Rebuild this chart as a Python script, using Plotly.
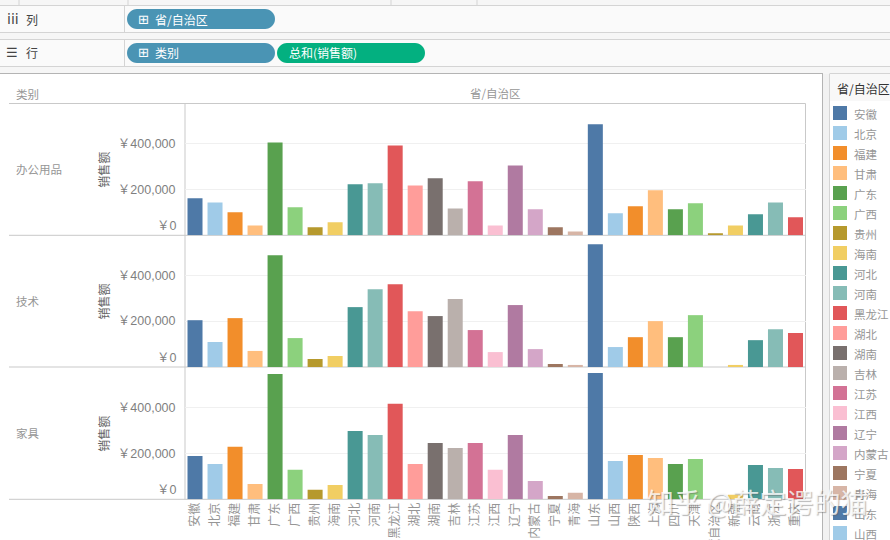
import plotly.graph_objects as go
from plotly.subplots import make_subplots

W, H = 890, 540

PROVINCES = ['安徽', '北京', '福建', '甘肃', '广东', '广西', '贵州', '海南', '河北', '河南',
             '黑龙江', '湖北', '湖南', '吉林', '江苏', '江西', '辽宁', '内蒙古', '宁夏', '青海',
             '山东', '山西', '陕西', '上海', '四川', '天津', '西藏自治区', '新疆', '云南', '浙江', '重庆']
LEGEND_ROWS = PROVINCES[:22]  # the list runs off the bottom of the window after 山西

PALETTE = ['#4e79a7', '#a0cbe8', '#f28e2b', '#ffbe7d', '#59a14f', '#8cd17d', '#b6992d', '#f1ce63',
           '#499894', '#86bcb6', '#e15759', '#ff9d9a', '#79706e', '#bab0ac', '#d37295', '#fabfd2',
           '#b07aa1', '#d4a6c8', '#9d7660', '#d7b5a6']

CATEGORIES = ['办公用品', '技术', '家具']
OFFICE = [161000, 143000, 100000, 43000, 404000, 122000, 35000, 57000, 222000, 226000,
          391000, 217000, 248000, 117000, 235000, 43000, 304000, 113000, 35000, 17000,
          483000, 96000, 126000, 196000, 113000, 139000, 9000, 43000, 91000, 143000, 78000]
TECH = [204000, 109000, 213000, 70000, 487000, 126000, 35000, 48000, 261000, 339000,
        361000, 243000, 222000, 296000, 161000, 65000, 270000, 78000, 13000, 9000,
        535000, 87000, 130000, 200000, 130000, 226000, 0, 9000, 117000, 165000, 148000]
FURNITURE = [188000, 154000, 228000, 67000, 545000, 128000, 41000, 62000, 297000, 280000,
             415000, 154000, 245000, 223000, 245000, 128000, 280000, 80000, 14000, 28000,
             549000, 167000, 193000, 180000, 154000, 175000, 0, 20000, 149000, 136000, 132000]
SERIES = [OFFICE, TECH, FURNITURE]

Y_TICKS = [200000, 400000]
Y_TICK_TEXT = ['￥200,000', '￥400,000']
Y_MAX = 571000

CJK = 'Noto Sans CJK SC, Noto Sans, sans-serif'
TICK_FONT = 'Liberation Sans, Noto Sans CJK SC, sans-serif'
GREY_TEXT = '#969696'
RULE = '#c9c9c9'

# panel edges in window pixels: top, baseline
PANELS = [(104, 235.3), (236, 367), (368, 499.3)]
PLOT_LEFT, PLOT_RIGHT = 185, 805.5


def px(x):
    return x / W


def py(y):
    return 1 - y / H


shapes = []
annotations = []


def rect(x0, y0, x1, y1, fill, layer='below'):
    shapes.append(dict(type='rect', xref='paper', yref='paper', x0=px(x0), x1=px(x1), y0=py(y0), y1=py(y1),
                       fillcolor=fill, line_width=0, layer=layer))


def rule(x0, y0, x1, y1, color=RULE, width=1):
    shapes.append(dict(type='line', xref='paper', yref='paper', x0=px(x0), x1=px(x1), y0=py(y0), y1=py(y1),
                       line=dict(color=color, width=width), layer='below'))


def label(x, y, text, size=12, color=GREY_TEXT, anchor='left', family=CJK, **kw):
    annotations.append(dict(xref='paper', yref='paper', x=px(x), y=py(y), text=text, showarrow=False,
                            xanchor=anchor, yanchor='middle', font=dict(size=size, color=color, family=family),
                            borderpad=0, **kw))


def pill(x0, y0, x1, y1, fill):
    r = (y1 - y0) / 2
    k = 0.45 * r
    pts = [(x0 + r, y0), (x1 - r, y0), (x1 - k, y0), (x1, y0 + k), (x1, y0 + r), (x1, y1 - k), (x1 - k, y1),
           (x1 - r, y1), (x0 + r, y1), (x0 + k, y1), (x0, y1 - k), (x0, y0 + r), (x0, y0 + k), (x0 + k, y0),
           (x0 + r, y0)]
    pts = [(px(a), py(b)) for a, b in pts]
    path = (f"M{pts[0][0]},{pts[0][1]} L{pts[1][0]},{pts[1][1]} "
            f"C{pts[2][0]},{pts[2][1]} {pts[3][0]},{pts[3][1]} {pts[4][0]},{pts[4][1]} "
            f"C{pts[5][0]},{pts[5][1]} {pts[6][0]},{pts[6][1]} {pts[7][0]},{pts[7][1]} "
            f"L{pts[8][0]},{pts[8][1]} "
            f"C{pts[9][0]},{pts[9][1]} {pts[10][0]},{pts[10][1]} {pts[11][0]},{pts[11][1]} "
            f"C{pts[12][0]},{pts[12][1]} {pts[13][0]},{pts[13][1]} {pts[14][0]},{pts[14][1]} Z")
    shapes.append(dict(type='path', xref='paper', yref='paper', path=path, fillcolor=fill, line_width=0))


# --- shelf strip at the top ----------------------------------------------------
rect(0, 0, W, 74, '#f6f6f6')
rect(0, 6, W, 32, '#fafafa')
rect(0, 40, W, 66, '#fafafa')
for y in (5.5, 32.5, 39.5, 66.5):
    rule(0, y, W, y, '#d4d4d4')
rule(0, 73.5, 823, 73.5, '#b4b4b4')
rule(124.5, 6, 124.5, 32, '#d4d4d4')
rule(124.5, 40, 124.5, 66, '#d4d4d4')
for x in (19, 128, 391, 477):
    rule(x, 0, x, 5, '#d4d4d4')

label(6, 19, 'iii', size=14, color='#444444', family='DejaVu Sans')
label(25, 19, '列', size=12, color='#444444')
label(5, 52, '☰', size=13, color='#444444', family='DejaVu Sans')
label(25, 53, '行', size=12, color='#444444')

BLUE_PILL, GREEN_PILL = '#4a94b4', '#03b080'
pill(127, 9, 275, 29, BLUE_PILL)
pill(127, 43, 275, 63, BLUE_PILL)
pill(277, 43, 425, 63, GREEN_PILL)
label(137, 19, '⊞', size=13, color='#ffffff', family='DejaVu Sans')
label(154, 19, '省/自治区', size=12, color='#ffffff')
label(137, 53, '⊞', size=13, color='#ffffff', family='DejaVu Sans')
label(154, 53, '类别', size=12, color='#ffffff')
label(288, 53, '总和(销售额)', size=12, color='#ffffff')

# --- legend card ---------------------------------------------------------------
rect(823, 74, 830, H, '#f2f2f2')
rule(822.5, 74, 822.5, H, '#b4b4b4')
rule(829.5, 74, 829.5, H, '#d4d4d4')
rule(829.5, 73.5, W, 73.5, '#d4d4d4')
rect(830, 74, W, 101, '#f8f8f8')
label(836, 88, '省/自治区', size=12, color='#333333')
for i, name in enumerate(LEGEND_ROWS):
    top = 106 + 20 * i
    rect(833, top, 847, top + 14, PALETTE[i % len(PALETTE)])
    label(852.5, top + 8, name, size=11.5)

# --- table frame and headers ----------------------------------------------------
label(15, 94, '类别', size=11.5)
label(496, 93, '省/自治区', size=11.5, anchor='center')
rule(9, 103.5, PLOT_RIGHT, 103.5)
for _, base in PANELS:
    rule(9, base, PLOT_RIGHT, base)
rule(PLOT_LEFT, 103.5, PLOT_LEFT, PANELS[-1][1])
rule(PLOT_RIGHT, 103.5, PLOT_RIGHT, PANELS[-1][1])

fig = make_subplots(rows=3, cols=1, shared_xaxes=True, vertical_spacing=0.002)
bar_colors = [PALETTE[i % len(PALETTE)] for i in range(len(PROVINCES))]
for row, (cat, vals, (top, base)) in enumerate(zip(CATEGORIES, SERIES, PANELS), start=1):
    fig.add_trace(go.Bar(x=PROVINCES, y=vals, name=cat, marker=dict(color=bar_colors, line_width=0)),
                  row=row, col=1)
    fig.update_yaxes(
        domain=[py(base), py(top)], range=[0, Y_MAX], tickvals=Y_TICKS, ticktext=Y_TICK_TEXT,
        tickfont=dict(size=12.5, color='#7f7f7f', family=TICK_FONT), ticks='outside', ticklen=6,
        tickcolor='rgba(0,0,0,0)', showline=False, zeroline=False,
        showgrid=True, gridcolor='#f0f0f0', gridwidth=1,
        title=dict(text='销售额', font=dict(size=12, color='#666666', family=CJK), standoff=5),
        row=row, col=1)
    label(15, (top + base) / 2 - 0.5, cat, size=11.5)
    # the zero label sits above the baseline, not centred on it
    annotations.append(dict(xref='paper', yref=f'y{row}' if row > 1 else 'y', x=px(178.5), y=0, yshift=9,
                            text='￥0', showarrow=False, xanchor='right', yanchor='middle',
                            font=dict(size=12.5, color='#7f7f7f', family=TICK_FONT)))

fig.update_xaxes(range=[-0.5, len(PROVINCES) - 0.5], domain=[px(PLOT_LEFT), px(PLOT_RIGHT)], showgrid=False,
                 zeroline=False, showline=False, ticks='', fixedrange=True)
fig.update_xaxes(tickangle=-90, tickfont=dict(size=12, color=GREY_TEXT, family=CJK), automargin=False, row=3, col=1)

# --- watermark ------------------------------------------------------------------
annotations.append(dict(xref='paper', yref='paper', x=px(757), y=py(501), text='知乎 @薛定谔的猫', showarrow=False,
                        xanchor='center', yanchor='middle',
                        font=dict(size=27, color='rgba(255,255,255,0.8)', family=CJK,
                                  shadow='1px 1px 1px rgba(90,90,90,0.55)')))

fig.update_layout(
    width=W, height=H, margin=dict(l=0, r=0, t=0, b=0), paper_bgcolor='#ffffff', plot_bgcolor='rgba(0,0,0,0)',
    bargap=0.25, showlegend=False, shapes=shapes, annotations=annotations,
)

fig.write_html("out.html", config=dict(displayModeBar=False),
               post_script="document.body.style.margin='0';document.body.style.overflow='hidden';")
